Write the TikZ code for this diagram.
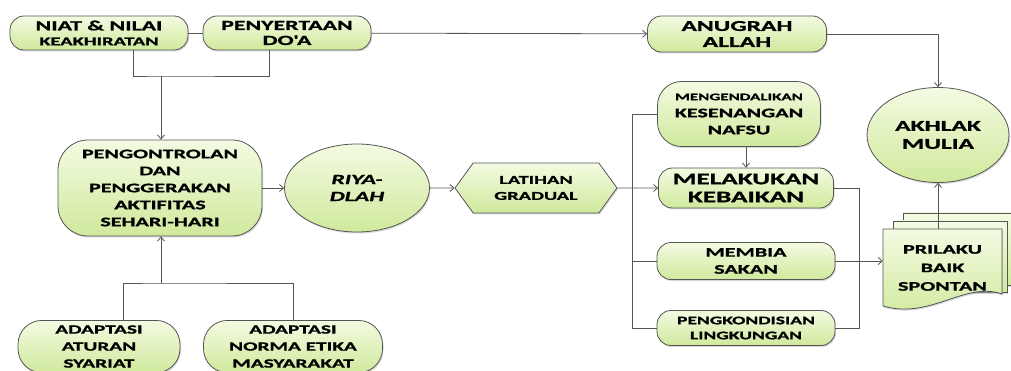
\documentclass[tikz,border=0pt]{standalone}
\usepackage{fontspec}
\newfontfamily\boxfont[FakeStretch=1.7,FakeBold=1.2]{Carlito}
\usetikzlibrary{arrows.meta,shapes.geometric,shapes.symbols,shadows}
\definecolor{boxtop}{HTML}{F3FBE2}
\definecolor{boxbot}{HTML}{D0E99C}
\definecolor{edge}{HTML}{555555}
\newcommand\fs[2]{\fontsize{#1}{#2}\selectfont}

\begin{document}
\begin{tikzpicture}[
    x=1pt,y=-1pt,
    base/.style={draw=edge,line width=.8pt,top color=boxtop,bottom color=boxbot,align=center,
      inner sep=1pt,drop shadow={shadow xshift=1pt,shadow yshift=-1.5pt,fill=black!30}},
    fsz/.style 2 args={font=\boxfont\bfseries\fontsize{#1}{#2}\selectfont},
    pill/.style={base,rectangle,rounded corners=14pt},
    oval/.style={base,ellipse},
    hexa/.style={base,signal,signal to=west and east,signal pointer angle=108},
    sheet/.style={draw=edge,line width=.8pt,top color=boxtop,bottom color=boxbot,
      drop shadow={shadow xshift=1pt,shadow yshift=-1.5pt,fill=black!30}},
    ln/.style={draw=edge,line width=.8pt},
    arr/.style={ln,-{Straight Barb[length=4pt,width=7pt]}}
  ]
    \useasboundingbox (0,0) rectangle (1011,371);
    \clip (0,0) rectangle (1011,371);
    % top row
    \node[pill,fsz={14}{15},minimum width=178pt,minimum height=34pt] (niat) at (99,33)
      {NIAT \& NILAI\\\fs{12}{14}KEAKHIRATAN};
    \node[pill,fsz={14}{15},minimum width=168pt,minimum height=34pt] (penyertaan) at (287,33)
      {PENYERTAAN\\DO'A};
    \node[pill,fsz={15}{16},minimum width=179pt,minimum height=36pt] (anugrah) at (737,34)
      {ANUGRAH\\ALLAH};
    \node[oval,fsz={15}{18},minimum width=142pt,minimum height=95pt] (akhlak) at (938,135)
      {AKHLAK\\MULIA};
    % middle row
    \node[pill,fsz={13}{17},rounded corners=30pt,minimum width=204pt,minimum height=96pt] (pengontrolan) at (160,188)
      {PENGONTROLAN\\DAN\\PENGGERAKAN\\AKTIFITAS\\SEHARI-HARI};
    \node[oval,fsz={14}{17},minimum width=145pt,minimum height=88pt] (riyadlah) at (357,188)
      {\itshape RIYA-\\\itshape DLAH};
    \node[hexa,fsz={12}{16},minimum width=162pt,minimum height=50pt] (latihan) at (536,188)
      {LATIHAN\\GRADUAL};
    \node[pill,fsz={13}{17},rounded corners=24pt,minimum width=163pt,minimum height=65pt] (mengendalikan) at (739,114)
      {\fs{10}{15}MENGENDALIKAN\\KESENANGAN\\NAFSU};
    \node[pill,fsz={16}{18},minimum width=175pt,minimum height=40pt] (melakukan) at (746,188)
      {MELAKUKAN\\KEBAIKAN};
    \node[pill,fsz={13}{17},minimum width=178pt,minimum height=37pt] (membiasakan) at (746,261)
      {MEMBIA\\SAKAN};
    \node[pill,fsz={11.5}{15},minimum width=178pt,minimum height=35pt] (pengkondisian) at (746,328)
      {PENGKONDISIAN\\LINGKUNGAN};
    % bottom row (cut by the lower edge)
    \node[pill,fsz={12.5}{17},rounded corners=24pt,anchor=north,inner ysep=5pt,minimum width=162pt] (adaptasi1) at (99,320)
      {ADAPTASI\\ATURAN\\SYARIAT};
    \node[pill,fsz={12.5}{17},rounded corners=24pt,anchor=north,inner ysep=5pt,minimum width=179pt] (adaptasi2) at (293,320)
      {ADAPTASI\\NORMA ETIKA\\MASYARAKAT};
    % stacked documents
    \draw[sheet] (903,213) rectangle (1013,285);
    \draw[sheet] (893,221) rectangle (1007,292);
    \draw[sheet] (883,229) -- (1002,229) -- (1002,294) .. controls (965,281) and (930,320) .. (883,306) -- cycle;
    \node[inner sep=0pt,minimum width=119pt,minimum height=78pt,align=center,fsz={13}{18.5}] (prilaku) at (942.5,268)
      {PRILAKU\\BAIK\\SPONTAN};

    % connectors
    \coordinate (tj) at (161,76);
    \coordinate (bj) at (161,283);
    \coordinate (busL) at (632,200);
    \coordinate (busR) at (859,200);
    \draw[ln] (niat) -- (penyertaan);
    \draw[arr] (penyertaan) -- (anugrah);
    \draw[ln] ([xshift=34pt]niat.south) |- (tj) -| ([xshift=-18pt]penyertaan.south);
    \draw[arr] (tj) -- (tj |- pengontrolan.north);
    \draw[ln] ([xshift=24pt]adaptasi1.north) |- (bj) -| (adaptasi2.north);
    \draw[arr] (bj) -- (bj |- pengontrolan.south);
    \draw[arr] (pengontrolan) -- (riyadlah);
    \draw[arr] (riyadlah) -- (latihan);
    \draw[arr] (latihan) -- (melakukan);
    \draw[ln] (mengendalikan.west) -| (busL |- pengkondisian.west) -- (pengkondisian.west);
    \draw[ln] (busL |- membiasakan.west) -- (membiasakan.west);
    \draw[arr] (mengendalikan.south -| melakukan.north) -- (melakukan.north);
    \draw[ln] (melakukan.east) -| (busR |- pengkondisian.east) -- (pengkondisian.east);
    \draw[arr] (membiasakan.east) -- (membiasakan.east -| prilaku.west);
    \draw[arr] (anugrah.east) -| (akhlak.north);
    \draw[arr] (akhlak.south |- prilaku.north) -- (akhlak.south);
\end{tikzpicture}
\end{document}
